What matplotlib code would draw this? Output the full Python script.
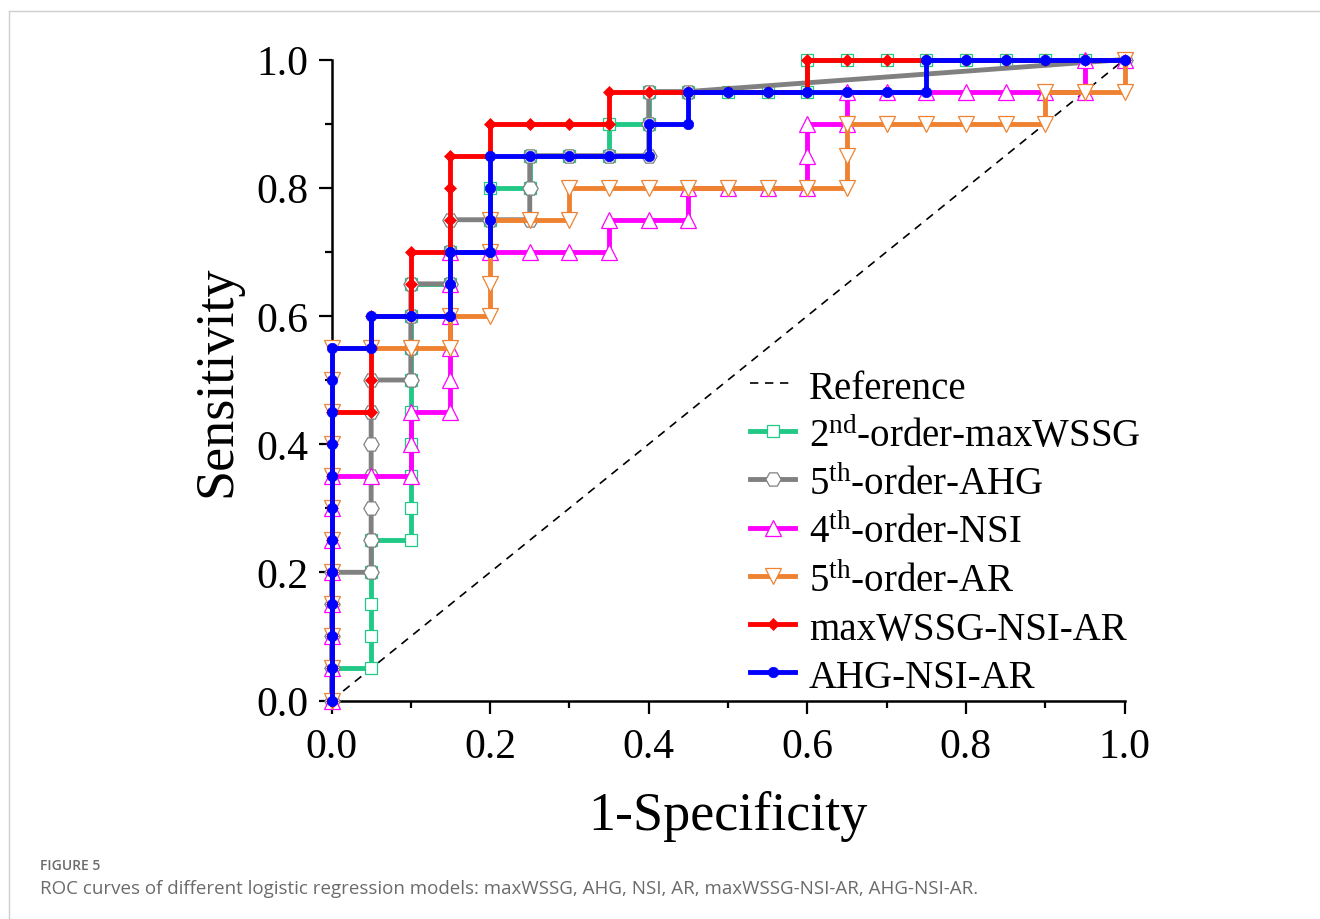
import matplotlib
matplotlib.use("Agg")
import matplotlib.pyplot as plt
from matplotlib.lines import Line2D

plt.rcParams['font.family'] = ['Liberation Serif', 'DejaVu Serif']
plt.rcParams['mathtext.fontset'] = 'custom'
plt.rcParams['mathtext.rm'] = 'Liberation Serif'
plt.rcParams['mathtext.it'] = 'Liberation Serif:italic'
plt.rcParams['mathtext.bf'] = 'Liberation Serif:bold'

# ---------------- data ----------------
ref_x = [0.0, 1.0]
ref_y = [0.0, 1.0]

green_fpr = [0, 0, 0.05, 0.05, 0.05, 0.05, 0.05, 0.1, 0.1, 0.1, 0.1, 0.1, 0.1, 0.1, 0.1, 0.1,
             0.15, 0.15, 0.2, 0.2, 0.2, 0.25, 0.25, 0.3, 0.35, 0.35, 0.4, 0.4, 0.45, 0.5, 0.55,
             0.6, 0.6, 0.65, 0.7, 0.75, 0.8, 0.85, 0.9, 0.95, 1.0]
green_tpr = [0, 0.05, 0.05, 0.1, 0.15, 0.2, 0.25, 0.25, 0.3, 0.35, 0.4, 0.45, 0.5, 0.55, 0.6, 0.65,
             0.65, 0.7, 0.7, 0.75, 0.8, 0.8, 0.85, 0.85, 0.85, 0.9, 0.9, 0.95, 0.95, 0.95, 0.95,
             0.95, 1.0, 1, 1, 1, 1, 1, 1, 1, 1]

gray_fpr = [0, 0, 0, 0, 0, 0.05, 0.05, 0.05, 0.05, 0.05, 0.05, 0.05, 0.1, 0.1, 0.1, 0.1,
            0.15, 0.15, 0.15, 0.2, 0.25, 0.25, 0.25, 0.3, 0.35, 0.4, 0.4, 0.4, 0.45, 1.0]
gray_tpr = [0, 0.05, 0.1, 0.15, 0.2, 0.2, 0.25, 0.3, 0.35, 0.4, 0.45, 0.5, 0.5, 0.55, 0.6, 0.65,
            0.65, 0.7, 0.75, 0.75, 0.75, 0.8, 0.85, 0.85, 0.85, 0.85, 0.9, 0.95, 0.95, 1.0]

magenta_fpr = [0, 0, 0, 0, 0, 0, 0, 0, 0.05, 0.1, 0.1, 0.1, 0.15, 0.15, 0.15, 0.15, 0.15, 0.15,
               0.2, 0.25, 0.3, 0.35, 0.35, 0.4, 0.45, 0.45, 0.5, 0.55, 0.6, 0.6, 0.6, 0.65, 0.65,
               0.7, 0.75, 0.8, 0.85, 0.9, 0.95, 0.95, 1.0]
magenta_tpr = [0, 0.05, 0.1, 0.15, 0.2, 0.25, 0.3, 0.35, 0.35, 0.35, 0.4, 0.45, 0.45, 0.5, 0.55, 0.6, 0.65, 0.7,
               0.7, 0.7, 0.7, 0.7, 0.75, 0.75, 0.75, 0.8, 0.8, 0.8, 0.8, 0.85, 0.9, 0.9, 0.95,
               0.95, 0.95, 0.95, 0.95, 0.95, 0.95, 1.0, 1.0]

orange_fpr = [0, 0, 0, 0, 0, 0, 0, 0, 0, 0, 0, 0, 0.05, 0.1, 0.15, 0.15, 0.2, 0.2, 0.2, 0.2,
              0.25, 0.3, 0.3, 0.35, 0.4, 0.45, 0.5, 0.55, 0.6, 0.65, 0.65, 0.65,
              0.7, 0.75, 0.8, 0.85, 0.9, 0.9, 0.95, 1.0, 1.0]
orange_tpr = [0, 0.05, 0.1, 0.15, 0.2, 0.25, 0.3, 0.35, 0.4, 0.45, 0.5, 0.55, 0.55, 0.55, 0.55, 0.6,
              0.6, 0.65, 0.7, 0.75, 0.75, 0.75, 0.8, 0.8, 0.8, 0.8, 0.8, 0.8, 0.8, 0.8, 0.85, 0.9,
              0.9, 0.9, 0.9, 0.9, 0.9, 0.95, 0.95, 0.95, 1.0]

red_fpr = [0, 0, 0, 0, 0, 0, 0, 0, 0, 0, 0.05, 0.05, 0.05, 0.05, 0.1, 0.1, 0.1,
           0.15, 0.15, 0.15, 0.15, 0.2, 0.2, 0.25, 0.3, 0.35, 0.35, 0.4, 0.45, 0.5, 0.55,
           0.6, 0.6, 0.65, 0.7, 0.75, 0.8, 0.85, 0.9, 0.95, 1.0]
red_tpr = [0, 0.05, 0.1, 0.15, 0.2, 0.25, 0.3, 0.35, 0.4, 0.45, 0.45, 0.5, 0.55, 0.6, 0.6, 0.65, 0.7,
           0.7, 0.75, 0.8, 0.85, 0.85, 0.9, 0.9, 0.9, 0.9, 0.95, 0.95, 0.95, 0.95, 0.95,
           0.95, 1.0, 1, 1, 1, 1, 1, 1, 1, 1]

blue_fpr = [0, 0, 0, 0, 0, 0, 0, 0, 0, 0, 0, 0, 0.05, 0.05, 0.1, 0.15, 0.15, 0.15,
            0.2, 0.2, 0.2, 0.2, 0.25, 0.3, 0.35, 0.4, 0.4, 0.45, 0.45, 0.5, 0.55, 0.6, 0.65, 0.7,
            0.75, 0.75, 0.8, 0.85, 0.9, 0.95, 1.0]
blue_tpr = [0, 0.05, 0.1, 0.15, 0.2, 0.25, 0.3, 0.35, 0.4, 0.45, 0.5, 0.55, 0.55, 0.6, 0.6, 0.6, 0.65, 0.7,
            0.7, 0.75, 0.8, 0.85, 0.85, 0.85, 0.85, 0.85, 0.9, 0.9, 0.95, 0.95, 0.95, 0.95, 0.95, 0.95,
            0.95, 1.0, 1, 1, 1, 1, 1]

labels = ["Reference",
          r"2$^{\mathrm{nd}}$-order-maxWSSG",
          r"5$^{\mathrm{th}}$-order-AHG",
          r"4$^{\mathrm{th}}$-order-NSI",
          r"5$^{\mathrm{th}}$-order-AR",
          "maxWSSG-NSI-AR",
          "AHG-NSI-AR"]

x_ticks = [0.0, 0.2, 0.4, 0.6, 0.8, 1.0]
y_ticks = [0.0, 0.2, 0.4, 0.6, 0.8, 1.0]
tick_labels = ["0.0", "0.2", "0.4", "0.6", "0.8", "1.0"]

caption_head = "FIGURE 5"
caption_text = ("ROC curves of different logistic regression models: maxWSSG, AHG, NSI, AR, "
                "maxWSSG-NSI-AR, AHG-NSI-AR.")

# ---------------- figure ----------------
W, H = 1320, 920
fig = plt.figure(figsize=(W / 100, H / 100), dpi=100)
fig.patch.set_facecolor('white')

# light frame lines (top and left)
fig.add_artist(Line2D([9 / W, 1.0], [1 - 12 / H, 1 - 12 / H], transform=fig.transFigure,
                      color='#cfcfcf', lw=1.0))
fig.add_artist(Line2D([9 / W, 9 / W], [0.0, 1 - 12 / H], transform=fig.transFigure,
                      color='#cfcfcf', lw=1.0))

x0, x1 = 331.5, 1124.5
y0, y1 = 701.5, 60.5
ax = fig.add_axes([x0 / W, 1 - y0 / H, (x1 - x0) / W, (y0 - y1) / H])

ax.plot(ref_x, ref_y, color='black', lw=1.2, dashes=(5, 4), label=labels[0], zorder=1)

lw = 3.5
series = [
    (green_fpr, green_tpr, '#20c985', 's', 9, 'white', 0.9, labels[1]),
    (gray_fpr, gray_tpr, '#808080', 'H', 11, 'white', 0.9, labels[2]),
    (magenta_fpr, magenta_tpr, '#ff00ff', '^', 11.5, 'white', 0.9, labels[3]),
    (orange_fpr, orange_tpr, '#ee8230', 'v', 11.5, 'white', 0.9, labels[4]),
    (red_fpr, red_tpr, '#ff0000', 'D', 6.5, '#ff0000', 0.5, labels[5]),
    (blue_fpr, blue_tpr, '#0000ff', 'o', 7.5, '#0000ff', 0.5, labels[6]),
]
for i, (xs, ys, c, m, ms, mfc, mew, lab) in enumerate(series):
    ax.plot(xs, ys, color=c, lw=lw, marker=m, markersize=ms, markerfacecolor=mfc,
            markeredgecolor=c, markeredgewidth=mew, label=lab, clip_on=False, zorder=2 + i,
            solid_joinstyle='miter')

ax.set_xlim(0, 1)
ax.set_ylim(0, 1)
for s in ['top', 'right']:
    ax.spines[s].set_visible(False)
for s in ['left', 'bottom']:
    ax.spines[s].set_linewidth(1.8)

ax.set_xticks(x_ticks)
ax.set_xticklabels(tick_labels)
ax.set_yticks(y_ticks)
ax.set_yticklabels(tick_labels)
ax.set_xticks([0.1, 0.3, 0.5, 0.7, 0.9], minor=True)
ax.set_yticks([0.1, 0.3, 0.5, 0.7, 0.9], minor=True)
ax.tick_params(axis='both', which='major', direction='out', length=9.5, width=1.6,
               labelsize=30, color='black')
ax.tick_params(axis='both', which='minor', direction='out', length=5, width=1.6)
ax.tick_params(axis='x', which='major', pad=10)
ax.tick_params(axis='y', which='major', pad=7)

ax.set_xlabel("1-Specificity", fontsize=39, labelpad=17)
ax.set_ylabel("Sensitivity", fontsize=39, labelpad=10)

leg = ax.legend(loc='upper left', bbox_to_anchor=(750 / W, 1 - 369 / H),
                bbox_transform=fig.transFigure, frameon=False, fontsize=28,
                handlelength=1.16, handletextpad=0.36, borderpad=0, borderaxespad=0,
                labelspacing=0.25, numpoints=1, handleheight=0.9)

fig.text(40 / W, 1 - 866 / H, caption_head, fontsize=10, color='#6b6b6b',
         family=['Open Sans', 'DejaVu Sans'], weight='semibold', va='center', ha='left')
fig.text(40 / W, 1 - 889 / H, caption_text, fontsize=13.5, color='#6b6b6b',
         family=['Open Sans', 'DejaVu Sans'], va='center', ha='left')

fig.savefig("out.png", dpi=100, facecolor='white')
